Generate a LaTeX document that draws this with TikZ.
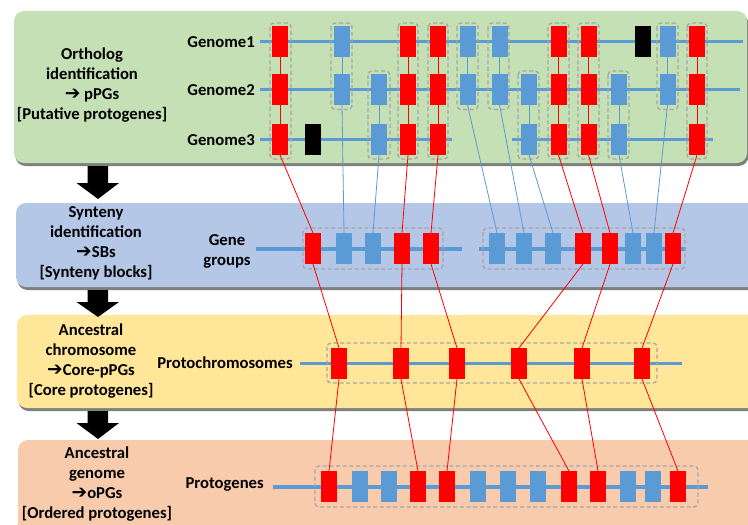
\documentclass[tikz,border=0pt]{standalone}
\usepackage{fontspec}
\setmainfont{Carlito}
\newfontfamily\dv{DejaVu Sans}
\definecolor{pgreen}{HTML}{C5E0B4}
\definecolor{pblue}{HTML}{B4C7E7}
\definecolor{pyellow}{HTML}{FFE699}
\definecolor{porange}{HTML}{F8CBAD}
\definecolor{gred}{HTML}{FF0000}
\definecolor{gblue}{HTML}{5B9BD5}
\definecolor{ggray}{HTML}{A6A6A6}
\definecolor{shad}{HTML}{7F7F7F}
\newcommand{\arr}{{\dv\bfseries\fontsize{14}{15}\selectfont ➔}}
\begin{document}
\begin{tikzpicture}[x=0.75pt,y=-0.75pt,
  gene/.style={minimum width=12pt,minimum height=23.25pt,inner sep=0pt,outer sep=0pt},
  rg/.style={gene,fill=gred},
  bg/.style={gene,fill=gblue},
  kg/.style={gene,fill=black},
  chrom/.style={draw=gblue,line width=2.3pt},
  grp/.style={draw=ggray,dash pattern=on 3pt off 2pt,line width=1pt,rounded corners=3pt},
  rl/.style={draw=gred,line width=0.6pt},
  bl/.style={draw=gblue,line width=0.6pt},
  lbl/.style={font=\bfseries\fontsize{12.5}{15}\selectfont,align=center,inner sep=0pt},
  panel/.style={rounded corners=7.5pt},
  blockarrow/.style={fill=black}]
\useasboundingbox (0,0) rectangle (748,524);
\clip (0,0) rectangle (748,524);
\fill[white] (0,0) rectangle (748,524);
% panels with shadows
\fill[shad,panel] (15.5,14) rectangle (748.5,166);
\fill[pgreen,panel] (14,11) rectangle (747,163);
\fill[shad,panel] (17.5,206) rectangle (770,290);
\fill[pblue,panel] (16,203) rectangle (770,287);
\fill[shad,panel] (18.5,318) rectangle (770,411);
\fill[pyellow,panel] (17,315) rectangle (770,408);
\fill[shad,panel] (19.5,443) rectangle (770,545);
\fill[porange,panel] (18,440) rectangle (770,545);
% block arrows
\fill[blockarrow] (87.5,166) -- (108,166) -- (108,183) -- (119,183) -- (98,199) -- (76.5,183) -- (87.5,183) -- cycle;
\fill[blockarrow] (87.5,290) -- (108,290) -- (108,302) -- (119,302) -- (98,317) -- (76.5,302) -- (87.5,302) -- cycle;
\fill[blockarrow] (87.5,411) -- (108,411) -- (108,423) -- (119,423) -- (98,439) -- (76.5,423) -- (87.5,423) -- cycle;
% left texts
\node[lbl] (t1) at (92,85.5) {Ortholog\\identification\\\arr\ pPGs\\{[Putative protogenes]}};
\node[lbl] (t2) at (96,243.5) {Synteny\\identification\\\arr SBs\\{[Synteny blocks]}};
\node[lbl] (t3) at (91,361.5) {Ancestral\\chromosome\\\arr Core-pPGs\\{[Core protogenes]}};
\node[lbl] (t4) at (97,484) {Ancestral\\genome\\\arr oPGs\\{[Ordered protogenes]}};
% row labels
\node[lbl,anchor=east] (l1) at (255,42) {Genome1};
\node[lbl,anchor=east] (l2) at (255,90) {Genome2};
\node[lbl,anchor=east] (l3) at (255,140) {Genome3};
\node[lbl] (l4) at (227,251) {Gene\\groups};
\node[lbl,anchor=east] (l5) at (293,363) {Protochromosomes};
\node[lbl,anchor=east] (l6) at (264,485) {Protogenes};
% chromosome lines
\draw[chrom] (260,41.5) -- (743,41.5);
\draw[chrom] (260,89.5) -- (740,89.5);
\draw[chrom] (260,139.5) -- (452,139.5);
\draw[chrom] (512,139.5) -- (713,139.5);
\draw[chrom] (256,249) -- (462,249);
\draw[chrom] (479,249) -- (686,249);
\draw[chrom] (300,363.5) -- (682,363.5);
\draw[chrom] (273,487) -- (708,487);
% dashed groups, genomes
\foreach \a/\b in {270/291,398/418,428/448,548/569,578/599,687/707}
  \draw[grp] (\a,23) rectangle (\b,159);
\foreach \a/\b in {331/352,457/478,488/509,657/678}
  \draw[grp] (\a,23) rectangle (\b,109.5);
\foreach \a/\b in {368/390,518/539,608/629}
  \draw[grp] (\a,71) rectangle (\b,159);
\draw[grp] (303,228) rectangle (443,269);
\draw[grp] (483,228) rectangle (685,269);
\draw[grp] (327,343) rectangle (657,383);
\draw[grp] (315,466) rectangle (698,507);
% genome genes
\foreach \n/\x/\s in {A1/280/rg,A3/342/bg,A5/408/rg,A6/438/rg,A7/467.5/bg,A8/499.5/bg,A10/558.5/rg,A11/588.5/rg,A13/643/kg,A14/667.5/bg,A15/697/rg}
  \node[\s] (\n) at (\x,41.5) {};
\foreach \n/\x/\s in {B1/280/rg,B3/342/bg,B4/379/bg,B5/408/rg,B6/438/rg,B7/467.5/bg,B8/499.5/bg,B9/529/bg,B10/558.5/rg,B11/588.5/rg,B12/619/bg,B14/667.5/bg,B15/697/rg}
  \node[\s] (\n) at (\x,89.5) {};
\foreach \n/\x/\s in {C1/280/rg,C2/313/kg,C4/379/bg,C5/408/rg,C6/438/rg,C9/529/bg,C10/558.5/rg,C11/588.5/rg,C12/619/bg,C15/697/rg}
  \node[\s] (\n) at (\x,139.5) {};
% gene groups
\foreach \n/\x/\s in {G1/313/rg,G2/344/bg,G3/373/bg,G4/402/rg,G5/431/rg,G6/497/bg,G7/524/bg,G8/553/bg,G9/583/rg,G10/610/rg,G11/633/bg,G12/654/bg,G13/673/rg}
  \node[\s] (\n) at (\x,248.5) {};
% protochromosomes
\foreach \n/\x in {P1/339,P2/401,P3/457,P4/519,P5/582,P6/642}
  \node[rg] (\n) at (\x,363.5) {};
% protogenes
\foreach \n/\x/\s in {Q1/329/rg,Q2/360/bg,Q3/389/bg,Q4/418/rg,Q5/447/rg,Q6/478/bg,Q7/508/bg,Q8/538/bg,Q9/569/rg,Q10/598/rg,Q11/628/bg,Q12/653/bg,Q13/678/rg}
  \node[\s] (\n) at (\x,486.5) {};
% connectors within genome columns
\foreach \u/\v in {A1/B1,B1/C1,A5/B5,B5/C5,A6/B6,B6/C6,A10/B10,B10/C10,A11/B11,B11/C11,A15/B15,B15/C15}
  \draw[rl] (\u.south) -- (\v.north);
\foreach \u/\v in {A3/B3,B4/C4,A7/B7,A8/B8,B9/C9,B12/C12,A14/B14}
  \draw[bl] (\u.south) -- (\v.north);
% genomes -> gene groups
\foreach \u/\v in {C1/G1,C5/G4,C6/G5,C10/G9,C11/G10,C15/G13}
  \draw[rl] (\u.south) -- (\v.north);
\foreach \u/\v in {B3/G2,C4/G3,B7/G6,B8/G7,C9/G8,C12/G11,B14/G12}
  \draw[bl] (\u.south) -- (\v.north);
% gene groups -> protochromosomes
\foreach \u/\v in {G1/P1,G4/P2,G5/P3,G9/P4,G10/P5,G13/P6}
  \draw[rl] (\u.south) -- (\v.north);
% protochromosomes -> protogenes
\foreach \u/\v in {P1/Q1,P2/Q4,P3/Q5,P4/Q9,P5/Q10,P6/Q13}
  \draw[rl] (\u.south) -- (\v.north);
\end{tikzpicture}
\end{document}
